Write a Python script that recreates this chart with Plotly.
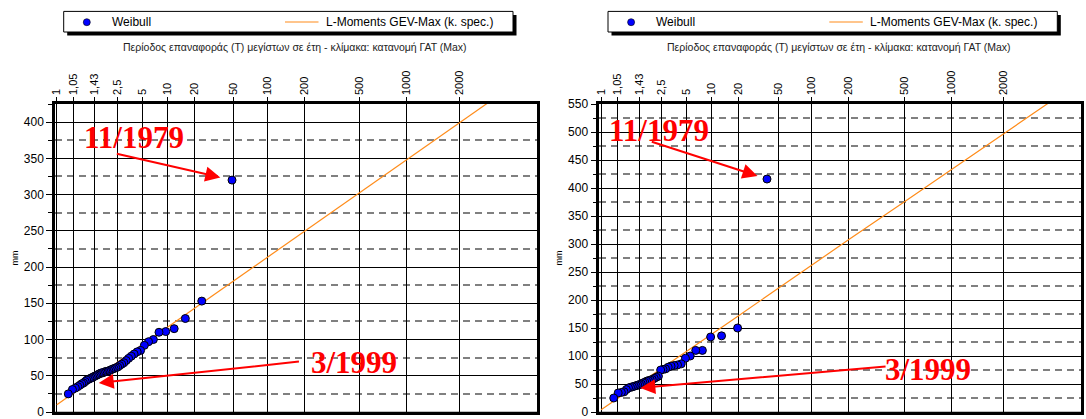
import numpy as np
import plotly.graph_objects as go

FIG_W, FIG_H = 1086, 419

# Shape parameter of the GEV probability scale used on the horizontal axis
SCALE_KAPPA = -0.15

# Return periods marked on the top axis and their printed labels
tick_periods = [1.001, 1.05, 1.43, 2.5, 5, 10, 20, 50, 100, 200, 500, 1000, 2000]
tick_labels = ["1", "1,05", "1,43", "2,5", "5", "10", "20", "50", "100", "200", "500", "1000", "2000"]

# Horizontal extent of both panels
axis_left_prob = 0.0005      # non-exceedance probability at the left edge
axis_right_period = 5000     # return period at the right edge

# Annual maxima (mm), ranked from largest to smallest
station_a_mm = [320, 153, 129, 115, 111, 110, 100, 97, 92, 85, 83, 80, 77, 74, 71, 68,
                66, 64, 62, 61, 60, 59, 58, 57, 56, 56, 55, 54, 54, 53, 52, 51, 50, 49,
                48, 47, 46, 45, 44, 42, 40, 39, 37, 35, 33, 31, 25]
station_b_mm = [416, 150, 136, 134, 110, 110, 100, 96, 86, 84, 83, 82, 80, 77, 76, 75,
                64, 62, 60, 58, 57, 56, 55, 53, 52, 50, 49, 48, 47, 46, 45, 44, 43, 40,
                36, 35, 34, 25]

# Fitted L-Moments GEV-Max quantiles (mm) along the return-period grid
fit_periods = [1.001, 1.05, 1.43, 2.5, 5, 10, 20, 50, 100, 200, 500, 1000, 2000, 5000]
fit_a_mm = [10, 26, 47, 68, 92, 117, 143, 181, 213, 249, 302, 348, 398, 474]
fit_b_mm = [4, 24, 50, 78, 108, 139, 172, 221, 262, 308, 375, 433, 497, 592]

# Vertical axis ranges
y_max_a = 425
y_max_b = 550

# Event labels and where their arrows point (return period, mm)
event_top = "11/1979"
event_bottom = "3/1999"
bottom_target_a = (1.56, 40)
bottom_target_b = (1.47, 43)


def variate_from_prob(F):
    w = -np.log(np.asarray(F, float))
    return (1 - w ** SCALE_KAPPA) / SCALE_KAPPA


def variate(T):
    return variate_from_prob(1 - 1 / np.asarray(T, float))


def weibull_periods(values):
    n = len(values)
    ranks = np.arange(1, n + 1)
    return (n + 1) / ranks


def px(x):
    return x / FIG_W


def py(y):
    return 1 - y / FIG_H


x_range = [float(variate_from_prob(axis_left_prob)), float(variate(axis_right_period))]
tick_x = variate(tick_periods).tolist()

PLOT_TOP, PLOT_BOTTOM = 104, 412
PANELS = [
    dict(x0=55.0, x1=537.0, data=station_a_mm, fit=fit_a_mm, ymax=y_max_a,
         top_stand=12, top_off=(-116.7, -26.7), bottom_target=bottom_target_a,
         bottom_off=(201.7, -21.6), top_text=(133.5, 137.5), bottom_text=(354, 362.8)),
    dict(x0=599.3, x1=1081.4, data=station_b_mm, fit=fit_b_mm, ymax=y_max_b,
         top_stand=10, top_off=(-116.7, -37.7), bottom_target=bottom_target_b,
         bottom_off=(246.7, -21.6), top_text=(659.2, 130), bottom_text=(928.3, 369)),
]

SANS = "Liberation Sans, Arial, sans-serif"
SERIF = "Liberation Serif, Times New Roman, serif"
ORANGE = "#FF8C1A"
BLUE = "#0000FF"

fig = go.Figure()
shapes = []
annotations = []

for i, p in enumerate(PANELS):
    xa = "x" if i == 0 else "x2"
    ya = "y" if i == 0 else "y2"
    T_emp = weibull_periods(p["data"])

    fig.add_trace(go.Scatter(
        x=variate(fit_periods), y=p["fit"], mode="lines",
        line=dict(color=ORANGE, width=1.2), name="L-Moments GEV-Max (k. spec.)",
        showlegend=False, xaxis=xa, yaxis=ya, cliponaxis=True))
    fig.add_trace(go.Scatter(
        x=variate(T_emp), y=p["data"], mode="markers",
        marker=dict(color=BLUE, size=8, line=dict(color="black", width=1)),
        name="Weibull", showlegend=False, xaxis=xa, yaxis=ya, cliponaxis=True))

    xkey = "xaxis" if i == 0 else "xaxis2"
    ykey = "yaxis" if i == 0 else "yaxis2"
    fig.layout[xkey] = dict(
        domain=[px(p["x0"]), px(p["x1"])], range=x_range, side="top",
        tickmode="array", tickvals=tick_x, ticktext=tick_labels, tickangle=-90,
        ticks="outside", ticklen=4, tickcolor="black", tickwidth=1,
        tickfont=dict(family=SANS, size=11, color="black"), ticklabeloverflow="allow",
        showgrid=True, gridcolor="black", gridwidth=1,
        showline=True, linecolor="black", linewidth=2.5, mirror=True,
        zeroline=False, anchor=ya, fixedrange=True, automargin=False)
    fig.layout[ykey] = dict(
        domain=[py(PLOT_BOTTOM), py(PLOT_TOP)], range=[0, p["ymax"]],
        tick0=0, dtick=50, ticks="outside", ticklen=6, tickcolor="black",
        tickfont=dict(family=SANS, size=12, color="black"), ticklabeloverflow="allow",
        showgrid=True, gridcolor="black", gridwidth=1,
        minor=dict(dtick=25, tick0=0, showgrid=True, gridcolor="#808080",
                   gridwidth=1.6, griddash="7px,5px", ticks="outside", ticklen=4,
                   tickcolor="black"),
        showline=True, linecolor="black", linewidth=2.5, mirror=True,
        zeroline=False, anchor=xa, fixedrange=True, automargin=False,
        title=dict(text="mm", font=dict(family=SANS, size=9, color="black"), standoff=4))

    # bottom edge of the frame
    shapes.append(dict(type="line", xref="paper", yref="paper",
                       x0=px(p["x0"] - 1.25), x1=px(p["x1"] + 1.25),
                       y0=py(PLOT_BOTTOM + 1), y1=py(PLOT_BOTTOM + 1), layer="above",
                       line=dict(color="black", width=2.5)))

    off = p["x0"] - 55.0

    # legend frame with drop shadow
    shapes.append(dict(type="rect", xref="paper", yref="paper",
                       x0=px(63.7 + off + 3.5), x1=px(513 + off + 3.5),
                       y0=py(32 + 3.5), y1=py(11.4 + 3.5),
                       fillcolor="black", line=dict(width=0)))
    shapes.append(dict(type="rect", xref="paper", yref="paper",
                       x0=px(63.7 + off), x1=px(513 + off), y0=py(32), y1=py(11.4),
                       fillcolor="white", line=dict(color="black", width=1)))
    shapes.append(dict(type="circle", xref="paper", yref="paper",
                       x0=px(86.8 + off - 3.5), x1=px(86.8 + off + 3.5),
                       y0=py(22.2 + 3.5), y1=py(22.2 - 3.5),
                       fillcolor=BLUE, line=dict(color="black", width=0.6)))
    shapes.append(dict(type="line", xref="paper", yref="paper",
                       x0=px(285 + off), x1=px(318.5 + off), y0=py(22), y1=py(22),
                       line=dict(color=ORANGE, width=1.2)))
    annotations.append(dict(text="Weibull", xref="paper", yref="paper",
                            x=px(109.5 + off), y=py(22), xanchor="left", yanchor="middle",
                            showarrow=False, font=dict(family=SANS, size=12, color="black")))
    annotations.append(dict(text="L-Moments GEV-Max (k. spec.)", xref="paper", yref="paper",
                            x=px(323.7 + off), y=py(22), xanchor="left", yanchor="middle",
                            showarrow=False, font=dict(family=SANS, size=12, color="black")))
    annotations.append(dict(
        text="Περίοδος επαναφοράς (Τ) μεγίστων σε έτη - κλίμακα: κατανομή ΓΑΤ (Max)",
        xref="paper", yref="paper", x=px(295 + off), y=py(47.5),
        xanchor="center", yanchor="middle", showarrow=False,
        font=dict(family=SANS, size=10.5, color="#222")))

    # event arrows
    annotations.append(dict(
        x=float(variate(T_emp[0])), y=p["data"][0], xref=xa, yref=ya,
        ax=p["top_off"][0], ay=p["top_off"][1], text="", showarrow=True,
        arrowhead=2, arrowsize=1.5, arrowwidth=2, arrowcolor="#FF0000",
        standoff=p["top_stand"]))
    bt, bv = p["bottom_target"]
    annotations.append(dict(
        x=float(variate(bt)), y=bv, xref=xa, yref=ya,
        ax=p["bottom_off"][0], ay=p["bottom_off"][1], text="", showarrow=True,
        arrowhead=2, arrowsize=1.5, arrowwidth=2, arrowcolor="#FF0000"))
    for label, (cx, cy) in ((event_top, p["top_text"]), (event_bottom, p["bottom_text"])):
        annotations.append(dict(
            text="<b>%s</b>" % label, xref="paper", yref="paper",
            x=px(cx), y=py(cy), xanchor="center", yanchor="middle", showarrow=False,
            font=dict(family=SERIF, size=31, color="#FF0000")))

fig.update_layout(
    width=FIG_W, height=FIG_H, autosize=False,
    margin=dict(l=0, r=0, t=0, b=0, pad=0, autoexpand=False),
    paper_bgcolor="white", plot_bgcolor="white",
    showlegend=False, shapes=shapes, annotations=annotations)

fig.write_html("out.html")
